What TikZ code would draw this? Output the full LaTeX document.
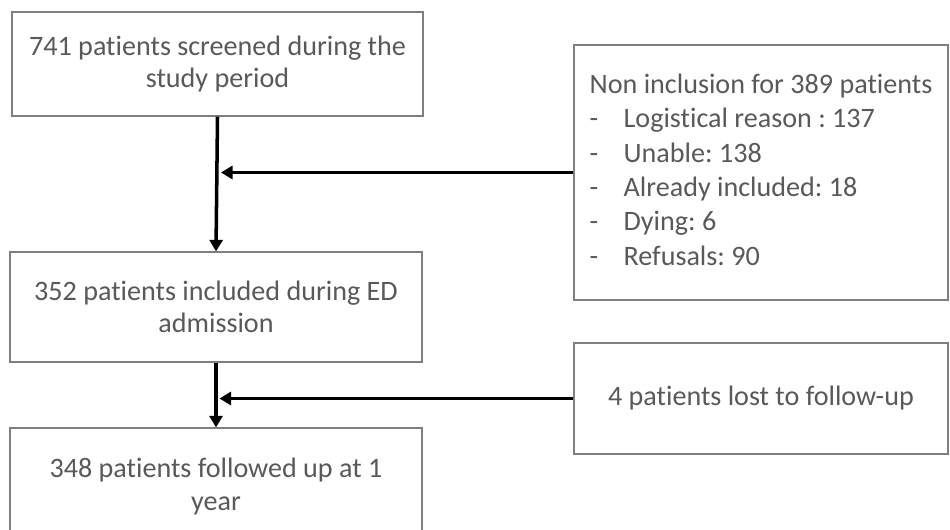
\documentclass[tikz,border=0pt]{standalone}
\usepackage{fontspec}
\setmainfont{Carlito}[Ligatures=NoCommon]
\usetikzlibrary{arrows.meta,calc}
\definecolor{txtgray}{HTML}{595959}
\definecolor{boxgray}{HTML}{7F7F7F}
\frenchspacing
\begin{document}
\begin{tikzpicture}[
  box/.style={draw=boxgray, line width=0.7pt, fill=white, text=txtgray,
    font=\fontsize{16}{18.3}\selectfont, inner sep=0pt},
  arr/.style={line width=2pt, -{Triangle[length=0.23cm,width=0.26cm]}}
]
\useasboundingbox (0,0) rectangle (19,-10.6);
\clip (0,0) rectangle (19,-10.6);
\fill[white] (0,0) rectangle (19,-10.6);
\node[box, minimum width=8.22cm, minimum height=2.08cm, align=center] (A) at (4.35,-1.28)
  {741 patients screened during the\\study period};
\node[box, minimum width=8.24cm, minimum height=2.2cm, align=center] (B) at (4.32,-6.14)
  {352 patients included during ED\\admission};
\node[box, minimum width=8.24cm, minimum height=2.34cm, align=center] (C) at (4.32,-9.73)
  {348 patients followed up at 1\\year};
\node[box, font=\fontsize{16}{19.5}\selectfont, minimum width=7.48cm, minimum height=5.1cm] (D) at (15.22,-3.45)
  {\begin{tabular}{@{}l@{}}
   Non inclusion for 389 patients\\
   \makebox[0.68cm][l]{-}Logistical reason : 137\\
   \makebox[0.68cm][l]{-}Unable: 138\\
   \makebox[0.68cm][l]{-}Already included: 18\\
   \makebox[0.68cm][l]{-}Dying: 6\\
   \makebox[0.68cm][l]{-}Refusals: 90
   \end{tabular}};
\node[box, minimum width=7.48cm, minimum height=2.22cm, align=center] (E) at (15.22,-7.97)
  {4 patients lost to follow-up};
\draw[arr] (A.south) -- (B.north);
\draw[arr] (B.south) -- (C.north);
\draw[arr] (D.west) -- ($(A.south |- D.west)+(0.07,0)$);
\draw[arr] (E.west) -- ($(B.south |- E.west)+(0.07,0)$);
\end{tikzpicture}
\end{document}
